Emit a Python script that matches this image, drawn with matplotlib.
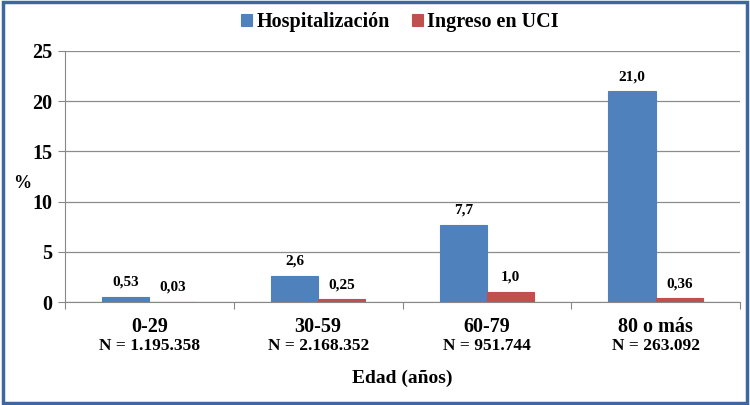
import matplotlib.pyplot as plt
import numpy as np
from matplotlib.patches import Rectangle

# datos
grupos = ['0-29', '30-59', '60-79', '80 o más']
n_grupo = ['N = 1.195.358', 'N = 2.168.352', 'N = 951.744', 'N = 263.092']
hosp = [0.53, 2.6, 7.7, 21.0]
uci = [0.03, 0.25, 1.0, 0.36]
hosp_txt = ['0,53', '2,6', '7,7', '21,0']
uci_txt = ['0,03', '0,25', '1,0', '0,36']

plt.rcParams['font.family'] = ['Liberation Serif', 'DejaVu Serif']
plt.rcParams['font.weight'] = 'bold'

fig = plt.figure(figsize=(7.5, 4.05), dpi=100)
ax = fig.add_axes([65 / 750, 1 - 302 / 405, 675 / 750, 251 / 405])

x = np.arange(len(grupos))
w = 0.28
ax.bar(x - w / 2, hosp, w, color='#4F81BD', edgecolor='#4F81BD', linewidth=0.8,
       label='Hospitalización', zorder=3)
ax.bar(x + w / 2, uci, w, color='#C0504D', edgecolor='#C0504D', linewidth=0.8,
       label='Ingreso en UCI', zorder=3)

for i in range(len(grupos)):
    ax.text(x[i] - w / 2, hosp[i] + 0.8, hosp_txt[i], ha='center', va='bottom',
            fontsize=11, fontweight='bold')
    ax.text(x[i] + w / 2, uci[i] + 0.8, uci_txt[i], ha='center', va='bottom',
            fontsize=11, fontweight='bold')

ax.set_xlim(-0.5, len(grupos) - 0.5)
ax.set_ylim(0, 25)
ax.set_yticks(range(0, 26, 5))
ax.tick_params(axis='y', labelsize=14.5, length=5, color='#888888', pad=4)
ax.yaxis.grid(True, color='#8c8c8c', linewidth=0.9, zorder=0)

ax.set_xticks(np.arange(-0.5, len(grupos), 1.0))
ax.set_xticklabels([])
ax.tick_params(axis='x', length=5, color='#888888')
for i in range(len(grupos)):
    ax.text(x[i], -1.5, grupos[i], ha='center', va='top', fontsize=14.5,
            fontweight='bold', transform=ax.transData)
    ax.text(x[i], -3.6, n_grupo[i], ha='center', va='top', fontsize=12.5,
            fontweight='bold', transform=ax.transData)

for s in ['top', 'right']:
    ax.spines[s].set_visible(False)
ax.spines['left'].set_color('#888888')
ax.spines['bottom'].set_color('#888888')

fig.text(22 / 750, 1 - 183 / 405, '%', ha='center', va='center', fontsize=13,
         fontweight='bold')
fig.text(402 / 750, 1 - 378 / 405, 'Edad (años)', ha='center', va='center',
         fontsize=14, fontweight='bold')

leg = fig.legend(loc='center', bbox_to_anchor=(400 / 750, 1 - 22 / 405), ncol=2,
                 frameon=False, fontsize=14.5, handlelength=0.55, handleheight=0.55,
                 handletextpad=0.2, columnspacing=1.1)

fig.patches.append(Rectangle((0.004, 0.006), 0.992, 0.988, transform=fig.transFigure,
                             fill=False, edgecolor='#3d66a3', linewidth=2.5))

fig.savefig('out.png', dpi=100)
